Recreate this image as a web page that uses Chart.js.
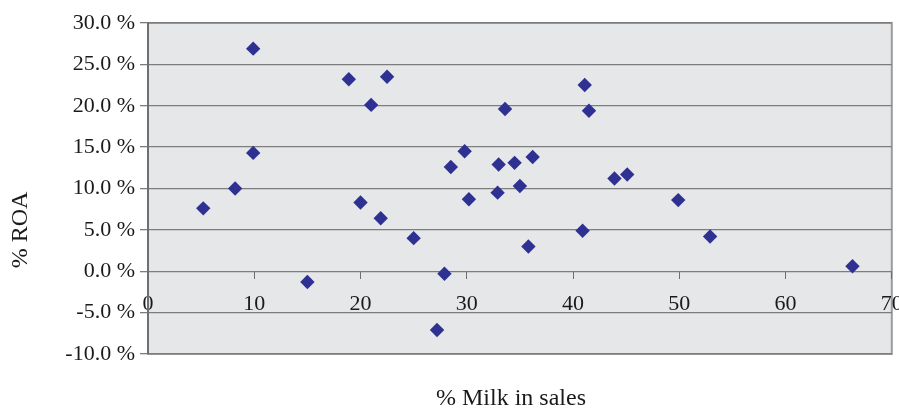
<!DOCTYPE html>
<html>
<head>
<meta charset="utf-8">
<script src="https://cdn.jsdelivr.net/npm/chart.js@4.4.0/dist/chart.umd.min.js"></script>
<style>
  body { margin: 0; background: #fff; }
  #wrap { width: 899px; height: 410px; }
</style>
</head>
<body>
<div id="wrap"><canvas id="roaChart" width="899" height="410"></canvas></div>
<script>
// % milk in sales (x) against % ROA (y), one entry per firm
const milkShare = [5.2, 8.2, 9.9, 9.9, 15.0, 18.9, 20.0, 21.0, 21.9, 22.5, 25.0, 27.9, 27.2, 28.5, 29.8, 30.2,
  32.9, 33.0, 33.6, 34.5, 35.0, 35.8, 36.2, 41.1, 40.9, 41.5, 43.9, 45.1, 49.9, 52.9, 66.3];
const roa = [7.6, 10.0, 26.9, 14.3, -1.3, 23.2, 8.3, 20.1, 6.4, 23.5, 4.0, -0.3, -7.1, 12.6, 14.5, 8.7,
  9.5, 12.9, 19.6, 13.1, 10.3, 3.0, 13.8, 22.5, 4.9, 19.4, 11.2, 11.7, 8.6, 4.2, 0.6];
const xTicks = [0, 10, 20, 30, 40, 50, 60, 70];
const yTicks = [-10, -5, 0, 5, 10, 15, 20, 25, 30];

const points = milkShare.map((x, i) => ({ x: x, y: roa[i] }));
const serif = '"Liberation Serif", "Times New Roman", serif';

const plotBackground = {
  id: 'plotBackground',
  beforeDraw(chart) {
    const { ctx, chartArea: a } = chart;
    ctx.save();
    ctx.fillStyle = '#e6e7e9';
    ctx.fillRect(a.left, a.top, a.right - a.left, a.bottom - a.top);
    ctx.strokeStyle = '#9c9c9c';
    ctx.lineWidth = 2;
    ctx.strokeRect(a.left, a.top, a.right - a.left, a.bottom - a.top);
    ctx.restore();
  }
};

const axisTitles = {
  id: 'axisTitles',
  afterDraw(chart) {
    const { ctx } = chart;
    ctx.save();
    ctx.fillStyle = '#1a1a1a';
    ctx.font = '24px ' + serif;
    ctx.textAlign = 'center';
    ctx.textBaseline = 'middle';
    ctx.fillText('% Milk in sales', 511, 399);
    ctx.translate(21, 230);
    ctx.rotate(-Math.PI / 2);
    ctx.fillText('% ROA', 0, 0);
    ctx.restore();
  }
};

new Chart(document.getElementById('roaChart'), {
  type: 'scatter',
  data: {
    datasets: [{
      data: points,
      pointStyle: 'rectRot',
      pointRadius: 7.2,
      pointHoverRadius: 7.2,
      backgroundColor: '#2e3192',
      borderWidth: 0
    }]
  },
  options: {
    responsive: false,
    animation: false,
    layout: { padding: { left: 0, right: 7, top: 23, bottom: 56 } },
    plugins: { legend: { display: false }, tooltip: { enabled: false } },
    scales: {
      x: {
        type: 'linear',
        position: { y: 0 },
        min: 0,
        max: 70,
        afterBuildTicks: (axis) => { axis.ticks = xTicks.map(v => ({ value: v })); },
        afterFit: (axis) => { axis.paddingLeft = 0; axis.paddingRight = 0; },
        grid: { display: true, drawOnChartArea: false, drawTicks: true, tickLength: 8, tickColor: '#6e6e6e', lineWidth: 1 },
        border: { display: false },
        ticks: { color: '#1a1a1a', padding: 12, maxRotation: 0, font: { family: serif, size: 22 } }
      },
      y: {
        type: 'linear',
        min: -10,
        max: 30,
        afterBuildTicks: (axis) => { axis.ticks = yTicks.map(v => ({ value: v })); },
        afterFit: (axis) => { axis.width = 148; },
        grid: { color: '#7d7d7d', lineWidth: 1.3, tickLength: 8, tickColor: '#7d7d7d' },
        border: { display: true, color: '#6f6f6f', width: 2 },
        ticks: {
          color: '#1a1a1a',
          padding: 5,
          font: { family: serif, size: 22 },
          callback: (v) => v.toFixed(1) + ' %'
        }
      }
    }
  },
  plugins: [plotBackground, axisTitles]
});
</script>
</body>
</html>
